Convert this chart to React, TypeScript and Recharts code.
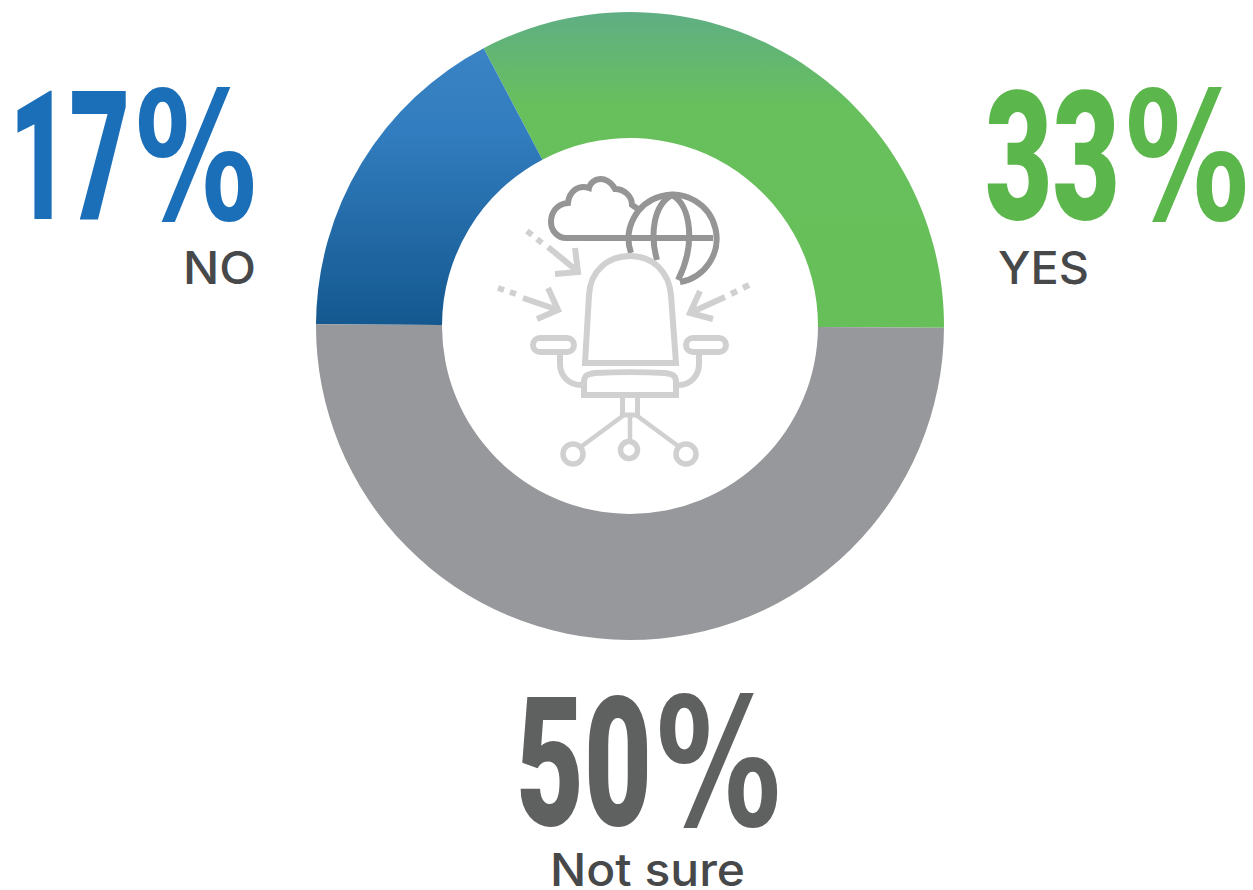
import React from "react";
import { PieChart, Pie, Cell } from "recharts";

const categories = ["YES", "NO", "Not sure"];
const shares = [32.8, 17.2, 50];
const digitLabels = ["33", "17", "50"];
const fills = ["url(#gGreen)", "url(#gBlue)", "#97989b"];

const digitStyle = { fontFamily: "Roboto, sans-serif", fontWeight: 900 } as const;
const pctStyle = { fontFamily: "'DejaVu Sans', sans-serif", fontWeight: 700 } as const;
const nameStyle = { fontFamily: "Inter, sans-serif", fontWeight: 500 } as const;

function BigPercent({ digits, color, x, y, dw, px, pw }: { digits: string; color: string; x: number; y: number; dw: number; px: number; pw: number }) {
  return (
    <g fill={color}>
      <text x={x} y={y} fontSize={180} textLength={dw} lengthAdjust="spacingAndGlyphs" style={digitStyle}>{digits}</text>
      <text x={px} y={y} fontSize={178} textLength={pw} lengthAdjust="spacingAndGlyphs" style={pctStyle}>%</text>
    </g>
  );
}

function Icon() {
  const c = "#d0d0d0";
  const d = "#959595";
  return (
    <g fill="none">
      <g stroke={d} strokeWidth={6}>
        <path d="M638 209 L632 205 C632 196 624 189 615 189 C611 181 604 179 601 179 C595 179 590 183 589 188 C578 184 569 192 568 203 C557 204 551 212 551 222 C551 231 558 238 566 238 H713" />
        <path d="M631 253 A44 44 0 1 1 680 282" />
        <path d="M657 260 C650 235 653 205 672 195 C691 205 696 245 678 280" />
      </g>
      <g stroke={c} strokeWidth={6}>
        <path d="M585 363 L589 295 C590 272 607 256 630 256 C653 256 669 272 671 295 L676 363 Z" />
        <rect x={533} y={338} width={41} height={14} rx={7} />
        <rect x={686} y={338} width={40} height={14} rx={7} />
        <path d="M560 355 V364 C560 376 569 385 581 385 M699 355 V364 C699 376 690 385 679 385" />
        <path d="M584 395 V382 C584 375 588 374 595 373 C615 372 645 372 665 373 C672 374 676 375 676 382 V395 Z" />
        <path d="M622.5 398 V415 H637.5 V398" strokeWidth={5} />
        <path d="M624 415 L582 446 M636 415 L678 446 M630 415 V441" strokeWidth={4.5} />
        <circle cx={573} cy={454} r={10} strokeWidth={5.5} />
        <circle cx={629} cy={450} r={8.5} strokeWidth={5.5} />
        <circle cx={686} cy={454} r={10} strokeWidth={5.5} />
        <path d="M548 247 L576 270 M575 248 L578 272 L555 274" />
        <path d="M527 231 L532 235 M537 239 L542 243" />
        <path d="M523 298 L558 310 M548 288 L558 310 L537 319" />
        <path d="M498 288 L504 290 M510 292 L516 294" />
        <path d="M725 297 L692 312 M700 291 L690 313 L713 319" />
        <path d="M737 291 L731 294 M749 285 L743 288" />
      </g>
    </g>
  );
}

export default function App() {
  const data = categories.map((name, i) => ({ name, value: shares[i] }));
  return (
    <div style={{ position: "absolute", left: 0, top: 0, width: 1253, height: 890 }}>
      <PieChart width={1253} height={890} margin={{ top: 0, right: 0, bottom: 0, left: 0 }}>
        <defs>
          <linearGradient id="gGreen" gradientUnits="userSpaceOnUse" x1={0} y1={12} x2={0} y2={330}>
            <stop offset="0" stopColor="#5fae84" />
            <stop offset="0.3" stopColor="#67c05c" />
            <stop offset="1" stopColor="#66bf58" />
          </linearGradient>
          <linearGradient id="gBlue" gradientUnits="userSpaceOnUse" x1={0} y1={48} x2={0} y2={326}>
            <stop offset="0" stopColor="#3a83c4" />
            <stop offset="0.3" stopColor="#327dbf" />
            <stop offset="1" stopColor="#14588f" />
          </linearGradient>
        </defs>
        <Pie
          data={data}
          dataKey="value"
          nameKey="name"
          cx={630}
          cy={326}
          innerRadius={188}
          outerRadius={314}
          startAngle={-0.3}
          endAngle={359.7}
          stroke="none"
          isAnimationActive={false}
          labelLine={false}
        >
          {data.map((d, i) => (
            <Cell key={d.name} fill={fills[i]} />
          ))}
        </Pie>
        <Icon />
        <BigPercent digits={digitLabels[0]} color="#5bb64b" x={985} y={219} dw={135} px={1125} pw={124} />
        <BigPercent digits={digitLabels[1]} color="#1b6fb8" x={9} y={219} dw={121} px={135} pw={122} />
        <BigPercent digits={digitLabels[2]} color="#5f6160" x={516} y={825} dw={136} px={656} pw={125} />
        <g fill="#47484a" style={nameStyle} fontSize={45}>
          <text x={998} y={284} textLength={91} lengthAdjust="spacingAndGlyphs">{categories[0]}</text>
          <text x={183} y={284} textLength={73} lengthAdjust="spacingAndGlyphs">{categories[1]}</text>
          <text x={550} y={886} textLength={195} lengthAdjust="spacingAndGlyphs">{categories[2]}</text>
        </g>
      </PieChart>
    </div>
  );
}
